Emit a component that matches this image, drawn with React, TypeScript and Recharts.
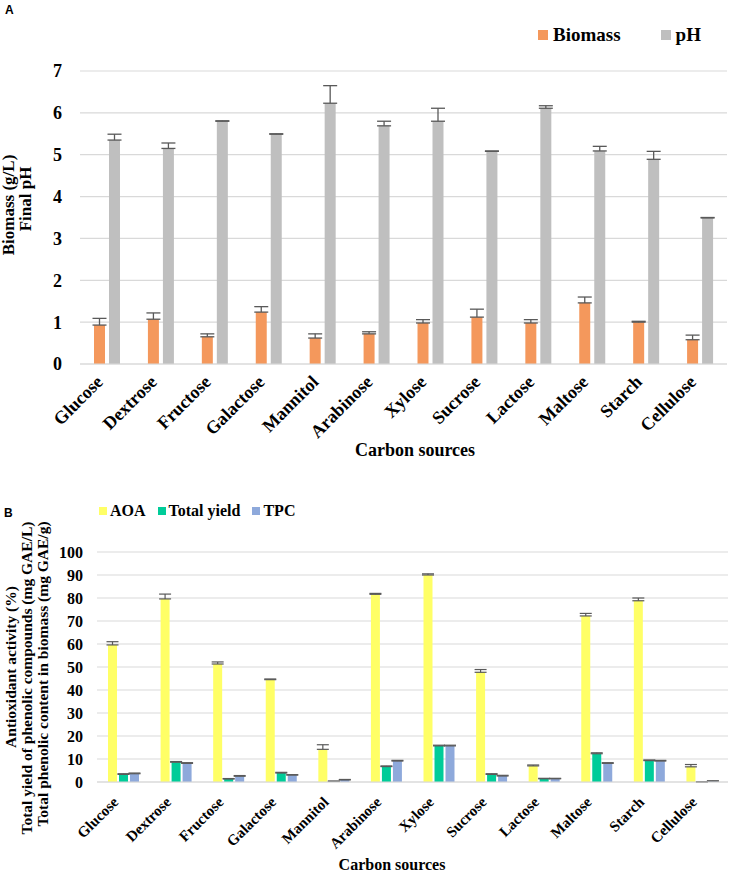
import React from "react"
import { Bar, BarChart, CartesianGrid, ErrorBar, Legend, XAxis, YAxis } from "recharts"

const categories = [
  "Glucose", "Dextrose", "Fructose", "Galactose", "Mannitol", "Arabinose",
  "Xylose", "Sucrose", "Lactose", "Maltose", "Starch", "Cellulose",
]

// panel A
const biomass = [0.93, 1.07, 0.65, 1.24, 0.62, 0.72, 0.98, 1.12, 0.98, 1.46, 1.0, 0.58]
const biomassErr = [0.16, 0.15, 0.07, 0.13, 0.1, 0.05, 0.08, 0.19, 0.08, 0.14, 0.02, 0.11]
const finalPH = [5.35, 5.15, 5.8, 5.49, 6.23, 5.69, 5.8, 5.08, 6.11, 5.09, 4.89, 3.49]
const finalPHErr = [0.14, 0.13, 0.01, 0.01, 0.42, 0.11, 0.31, 0.01, 0.06, 0.11, 0.19, 0.01]
const ticksA = [0, 1, 2, 3, 4, 5, 6, 7]
const legendA = ["Biomass", "pH"]

// panel B
const aoa = [59.6, 79.6, 51.3, 44.5, 14.2, 81.6, 90, 47.7, 7.0, 72.2, 78.8, 6.6]
const aoaErr = [1.4, 2.1, 0.9, 0.3, 2.0, 0.4, 0.5, 1.2, 0.4, 1.1, 1.2, 1.0]
const totalYield = [3.3, 8.6, 1.3, 3.9, 0.3, 6.7, 15.7, 3.3, 1.4, 12.3, 9.3, 0.05]
const totalYieldErr = [0.3, 0.3, 0.2, 0.3, 0.1, 0.3, 0.3, 0.3, 0.2, 0.4, 0.3, 0.05]
const tpc = [3.6, 8.1, 2.5, 3.0, 0.9, 9.1, 15.7, 2.6, 1.4, 8.1, 9.1, 0.4]
const tpcErr = [0.3, 0.3, 0.3, 0.2, 0.2, 0.3, 0.3, 0.3, 0.2, 0.3, 0.3, 0.1]
const ticksB = [0, 10, 20, 30, 40, 50, 60, 70, 80, 90, 100]
const legendB = ["AOA", "Total yield", "TPC"]

const rowsA = categories.map((name, i) => ({
  name,
  biomass: biomass[i],
  bioErr: [0, biomassErr[i]],
  ph: finalPH[i],
  phErr: [0, finalPHErr[i]],
}))

const rowsB = categories.map((name, i) => ({
  name,
  aoa: aoa[i],
  aoaErr: [0, aoaErr[i]],
  ty: totalYield[i],
  tyErr: [0, totalYieldErr[i]],
  tpc: tpc[i],
  tpcErr: [0, tpcErr[i]],
}))

const serif = "'Liberation Serif', 'Times New Roman', serif"
const grid = "#d9d9d9"
const errColor = "#595959"

const xTick = (size: number, dx: number, dy: number) => (props: any) => {
  const { x, y, payload } = props
  const tx = x + dx
  const ty = y + dy
  return (
    <text
      x={tx}
      y={ty}
      transform={`rotate(-45, ${tx}, ${ty})`}
      textAnchor="end"
      fontFamily={serif}
      fontWeight="bold"
      fontSize={size}
      fill="#000"
    >
      {payload.value}
    </text>
  )
}

// legend keeps the series order (recharts sorts by name otherwise)
const legendContent =
  (order: string[], fontSize: number, sq: number, textGap: number, itemGap: number) => (props: any) => {
    const items = [...(props.payload || [])].sort(
      (a: any, b: any) => order.indexOf(a.value) - order.indexOf(b.value)
    )
    return (
      <div style={{ display: "flex", alignItems: "center", fontFamily: serif, fontWeight: "bold", fontSize, color: "#000", whiteSpace: "nowrap" }}>
        {items.map((e: any, i: number) => (
          <span key={i} style={{ display: "flex", alignItems: "center", marginRight: itemGap }}>
            <span style={{ width: sq, height: sq, background: e.color, marginRight: textGap, display: "inline-block" }} />
            {e.value}
          </span>
        ))}
      </div>
    )
  }

function PanelA() {
  return (
    <BarChart
      width={729}
      height={462}
      data={rowsA}
      margin={{ top: 71, right: 2, bottom: 0, left: 0 }}
      barSize={11}
      barGap={4}
    >
      <text x={5} y={14} fontFamily="'Liberation Sans', Arial, sans-serif" fontWeight="bold" fontSize={12}>A</text>
      <CartesianGrid vertical={false} stroke={grid} strokeWidth={1.2} />
      <XAxis
        dataKey="name"
        interval={0}
        tickLine={false}
        tickSize={0}
        tickMargin={0}
        axisLine={{ stroke: grid, strokeWidth: 1.2 }}
        height={98}
        tick={xTick(18, -3, 19)}
        label={() => (
          <text x={415} y={456} textAnchor="middle" fontFamily={serif} fontWeight="bold" fontSize={18} fill="#000">
            Carbon sources
          </text>
        )}
      />
      <YAxis
        domain={[0, 7]}
        ticks={ticksA}
        width={80}
        axisLine={false}
        tickLine={false}
        tickSize={0}
        tickMargin={18}
        tick={{ fontFamily: serif, fontWeight: "bold", fontSize: 18, fill: "#000" }}
        label={() => (
          <g fontFamily={serif} fontWeight="bold" fontSize={17} fill="#000">
            <text x={14} y={205} transform="rotate(-90, 14, 205)" textAnchor="middle">Biomass (g/L)</text>
            <text x={31} y={199} transform="rotate(-90, 31, 199)" textAnchor="middle">Final pH</text>
          </g>
        )}
      />
      <Legend
        verticalAlign="middle"
        align="center"
        wrapperStyle={{ top: 24, left: 538, width: "auto" }}
        content={legendContent(legendA, 19, 10, 5, 40)}
      />
      <Bar dataKey="biomass" name="Biomass" fill="#f4985c" isAnimationActive={false}>
        <ErrorBar dataKey="bioErr" width={7} stroke={errColor} strokeWidth={1.3} />
      </Bar>
      <Bar dataKey="ph" name="pH" fill="#bfbfbf" isAnimationActive={false}>
        <ErrorBar dataKey="phErr" width={7} stroke={errColor} strokeWidth={1.3} />
      </Bar>
    </BarChart>
  )
}

function PanelB() {
  return (
    <BarChart
      width={729}
      height={410}
      data={rowsB}
      margin={{ top: 90, right: 1, bottom: 0, left: 0 }}
      barSize={9}
      barGap={2}
    >
      <text x={4} y={55} fontFamily="'Liberation Sans', Arial, sans-serif" fontWeight="bold" fontSize={12}>B</text>
      <CartesianGrid vertical={false} stroke={grid} strokeWidth={1.2} />
      <XAxis
        dataKey="name"
        interval={0}
        tickLine={false}
        tickSize={0}
        tickMargin={0}
        axisLine={{ stroke: grid, strokeWidth: 1.2 }}
        height={90}
        tick={xTick(15, -4, 21)}
        label={() => (
          <text x={392} y={408} textAnchor="middle" fontFamily={serif} fontWeight="bold" fontSize={16} fill="#000">
            Carbon sources
          </text>
        )}
      />
      <YAxis
        domain={[0, 100]}
        ticks={ticksB}
        width={97}
        axisLine={false}
        tickLine={false}
        tickSize={0}
        tickMargin={14}
        tick={{ fontFamily: serif, fontWeight: "bold", fontSize: 16, fill: "#000" }}
        label={() => (
          <g fontFamily={serif} fontWeight="bold" fontSize={15.5} fill="#000">
            <text x={16} y={205} transform="rotate(-90, 16, 205)" textAnchor="middle">Antioxidant  activity (%)</text>
            <text x={32} y={216} transform="rotate(-90, 32, 216)" textAnchor="middle">Total yield of phenolic compounds  (mg GAE/L)</text>
            <text x={48} y={212} transform="rotate(-90, 48, 212)" textAnchor="middle">Total phenolic content in biomass (mg GAE/g)</text>
          </g>
        )}
      />
      <Legend
        verticalAlign="middle"
        align="center"
        wrapperStyle={{ top: 40, left: 99, width: "auto" }}
        content={legendContent(legendB, 16, 8, 3, 12)}
      />
      <Bar dataKey="aoa" name="AOA" fill="#ffff66" isAnimationActive={false}>
        <ErrorBar dataKey="aoaErr" width={6} stroke={errColor} strokeWidth={1.2} />
      </Bar>
      <Bar dataKey="ty" name="Total yield" fill="#00cc99" isAnimationActive={false}>
        <ErrorBar dataKey="tyErr" width={6} stroke={errColor} strokeWidth={1.2} />
      </Bar>
      <Bar dataKey="tpc" name="TPC" fill="#8ea9db" isAnimationActive={false}>
        <ErrorBar dataKey="tpcErr" width={6} stroke={errColor} strokeWidth={1.2} />
      </Bar>
    </BarChart>
  )
}

export default function App() {
  return (
    <div style={{ position: "absolute", left: 0, top: 0, width: 729, height: 872, background: "#fff" }}>
      <div style={{ position: "absolute", left: 0, top: 0 }}>
        <PanelA />
      </div>
      <div style={{ position: "absolute", left: 0, top: 462 }}>
        <PanelB />
      </div>
    </div>
  )
}
